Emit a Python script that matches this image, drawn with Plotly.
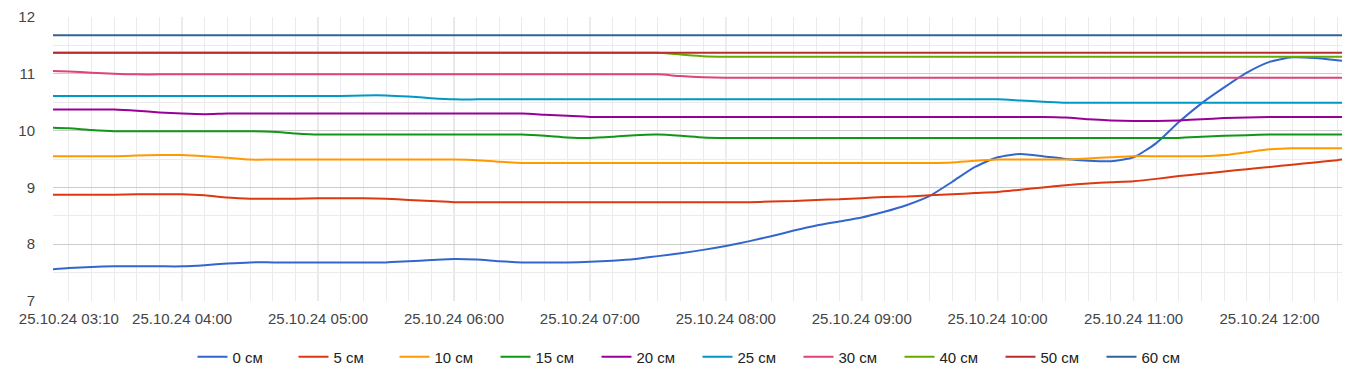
import plotly.graph_objects as go

DAY = "2024-10-25 "
times = ["03:03", "03:10", "03:20", "03:30", "03:40", "03:50",
         "04:00", "04:10", "04:20", "04:30", "04:40", "04:50",
         "05:00", "05:10", "05:20", "05:30", "05:40", "05:50",
         "06:00", "06:10", "06:20", "06:30", "06:40", "06:50",
         "07:00", "07:10", "07:20", "07:30", "07:40", "07:50",
         "08:00", "08:10", "08:20", "08:30", "08:40", "08:50",
         "09:00", "09:10", "09:20", "09:30", "09:40", "09:50",
         "10:00", "10:10", "10:20", "10:30", "10:40", "10:50",
         "11:00", "11:10", "11:20", "11:30", "11:40", "11:50",
         "12:00", "12:10", "12:20", "12:30", "12:32"]

d0 = [7.56, 7.58, 7.60, 7.61, 7.61, 7.61,
      7.61, 7.63, 7.66, 7.68, 7.68, 7.68,
      7.68, 7.68, 7.68, 7.68, 7.70, 7.72,
      7.74, 7.73, 7.70, 7.68, 7.68, 7.68,
      7.69, 7.71, 7.74, 7.79, 7.84, 7.90,
      7.97, 8.05, 8.14, 8.24, 8.33, 8.40,
      8.47, 8.57, 8.69, 8.85, 9.10, 9.36,
      9.53, 9.59, 9.55, 9.50, 9.47, 9.46,
      9.53, 9.78, 10.15, 10.48, 10.76, 11.02,
      11.21, 11.29, 11.28, 11.24, 11.23]
d5 = [8.87, 8.87, 8.87, 8.87, 8.88, 8.88,
      8.88, 8.86, 8.82, 8.80, 8.80, 8.80,
      8.81, 8.81, 8.81, 8.80, 8.78, 8.76,
      8.74, 8.74, 8.74, 8.74, 8.74, 8.74,
      8.74, 8.74, 8.74, 8.74, 8.74, 8.74,
      8.74, 8.74, 8.75, 8.76, 8.78, 8.79,
      8.81, 8.83, 8.84, 8.86, 8.88, 8.90,
      8.92, 8.96, 9.00, 9.04, 9.07, 9.09,
      9.11, 9.15, 9.20, 9.24, 9.28, 9.32,
      9.36, 9.40, 9.44, 9.48, 9.49]
d10 = [9.55, 9.55, 9.55, 9.55, 9.56, 9.57,
       9.57, 9.55, 9.52, 9.49, 9.49, 9.49,
       9.49, 9.49, 9.49, 9.49, 9.49, 9.49,
       9.49, 9.48, 9.45, 9.43, 9.43, 9.43,
       9.43, 9.43, 9.43, 9.43, 9.43, 9.43,
       9.43, 9.43, 9.43, 9.43, 9.43, 9.43,
       9.43, 9.43, 9.43, 9.43, 9.44, 9.47,
       9.49, 9.49, 9.49, 9.49, 9.51, 9.53,
       9.55, 9.55, 9.55, 9.55, 9.57, 9.62,
       9.67, 9.69, 9.69, 9.69, 9.69]
d15 = [10.05, 10.04, 10.01, 9.99, 9.99, 9.99,
       9.99, 9.99, 9.99, 9.99, 9.98, 9.95,
       9.93, 9.93, 9.93, 9.93, 9.93, 9.93,
       9.93, 9.93, 9.93, 9.93, 9.91, 9.88,
       9.87, 9.89, 9.92, 9.93, 9.91, 9.88,
       9.87, 9.87, 9.87, 9.87, 9.87, 9.87,
       9.87, 9.87, 9.87, 9.87, 9.87, 9.87,
       9.87, 9.87, 9.87, 9.87, 9.87, 9.87,
       9.87, 9.87, 9.87, 9.89, 9.91, 9.92,
       9.93, 9.93, 9.93, 9.93, 9.93]
d20 = [10.37, 10.37, 10.37, 10.37, 10.35, 10.32,
       10.30, 10.29, 10.30, 10.30, 10.30, 10.30,
       10.30, 10.30, 10.30, 10.30, 10.30, 10.30,
       10.30, 10.30, 10.30, 10.30, 10.28, 10.26,
       10.24, 10.24, 10.24, 10.24, 10.24, 10.24,
       10.24, 10.24, 10.24, 10.24, 10.24, 10.24,
       10.24, 10.24, 10.24, 10.24, 10.24, 10.24,
       10.24, 10.24, 10.24, 10.23, 10.20, 10.18,
       10.17, 10.17, 10.18, 10.20, 10.22, 10.23,
       10.24, 10.24, 10.24, 10.24, 10.24]
d25 = [10.61, 10.61, 10.61, 10.61, 10.61, 10.61,
       10.61, 10.61, 10.61, 10.61, 10.61, 10.61,
       10.61, 10.61, 10.62, 10.62, 10.60, 10.57,
       10.55, 10.55, 10.55, 10.55, 10.55, 10.55,
       10.55, 10.55, 10.55, 10.55, 10.55, 10.55,
       10.55, 10.55, 10.55, 10.55, 10.55, 10.55,
       10.55, 10.55, 10.55, 10.55, 10.55, 10.55,
       10.55, 10.53, 10.51, 10.49, 10.49, 10.49,
       10.49, 10.49, 10.49, 10.49, 10.49, 10.49,
       10.49, 10.49, 10.49, 10.49, 10.49]
d30 = [11.05, 11.04, 11.02, 11.00, 10.99, 10.99,
       10.99, 10.99, 10.99, 10.99, 10.99, 10.99,
       10.99, 10.99, 10.99, 10.99, 10.99, 10.99,
       10.99, 10.99, 10.99, 10.99, 10.99, 10.99,
       10.99, 10.99, 10.99, 10.99, 10.96, 10.94,
       10.93, 10.93, 10.93, 10.93, 10.93, 10.93,
       10.93, 10.93, 10.93, 10.93, 10.93, 10.93,
       10.93, 10.93, 10.93, 10.93, 10.93, 10.93,
       10.93, 10.93, 10.93, 10.93, 10.93, 10.93,
       10.93, 10.93, 10.93, 10.93, 10.93]
d40 = [11.37] * 28 + [11.34, 11.31] + [11.30] * 29
d50 = [11.37] * 59
d60 = [11.68] * 59

series_names = ["0 см", "5 см", "10 см", "15 см", "20 см",
                "25 см", "30 см", "40 см", "50 см", "60 см"]
series_values = [d0, d5, d10, d15, d20, d25, d30, d40, d50, d60]
colors = ["#3366cc", "#dc3912", "#ff9900", "#109618", "#990099",
          "#0099c6", "#dd4477", "#66aa00", "#b82e2e", "#316395"]

tick_times = ["03:10", "04:00", "05:00", "06:00", "07:00", "08:00",
              "09:00", "10:00", "11:00", "12:00"]
tick_labels = ["25.10.24 " + t for t in tick_times]
hour_lines = tick_times[1:]

x = [DAY + t for t in times]

fig = go.Figure()
for name, vals, col in zip(series_names, series_values, colors):
    fig.add_trace(go.Scatter(
        x=x, y=vals, name=name, mode="lines",
        line=dict(color=col, width=2, shape="spline", smoothing=0.6),
    ))

for h in hour_lines:
    fig.add_shape(type="line", xref="x", yref="paper",
                  x0=DAY + h, x1=DAY + h, y0=0, y1=1,
                  line=dict(color="#cccccc", width=1), layer="between")

font_family = "Liberation Sans, Arial, sans-serif"
fig.update_layout(
    width=1366, height=374,
    margin=dict(l=45, r=32, t=9, b=81),
    paper_bgcolor="white", plot_bgcolor="white",
    font=dict(family=font_family, size=15, color="#444444"),
    showlegend=True,
    legend=dict(orientation="h", x=0.5, xanchor="center",
                y=-0.197, yanchor="middle",
                font=dict(size=15, color="#222222"),
                entrywidth=56, entrywidthmode="pixels",
                itemwidth=30),
    xaxis=dict(
        type="date", automargin=False,
        range=[DAY + times[0], DAY + times[-1]],
        tickvals=[DAY + t for t in tick_times],
        ticktext=tick_labels,
        showgrid=True, gridcolor="#ebebeb", gridwidth=1,
        minor=dict(dtick=600000, tick0=DAY + "03:00", showgrid=True,
                   gridcolor="#ebebeb", gridwidth=1),
        zeroline=False, showline=False, ticks="",
        tickfont=dict(size=15, color="#444444"),
        ticklabelstandoff=7,
    ),
    yaxis=dict(
        range=[7, 12], dtick=1, tick0=7, automargin=False,
        showgrid=True, gridcolor="#cccccc", gridwidth=1,
        minor=dict(dtick=0.5, showgrid=True, gridcolor="#ebebeb"),
        zeroline=False, showline=False, ticks="",
        tickfont=dict(size=15, color="#444444"),
        ticklabelstandoff=17,
    ),
)

fig.write_html("out.html")
